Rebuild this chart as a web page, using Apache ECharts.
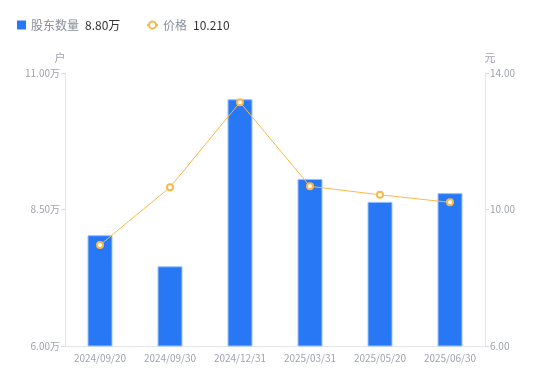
<!DOCTYPE html>
<html><head><meta charset="utf-8">
<script src="https://cdn.jsdelivr.net/npm/echarts@6/dist/echarts.min.js"></script>
<style>html,body{margin:0;padding:0;background:#fff}#c{width:550px;height:381px}</style>
</head><body><div id="c"></div>
<script>
var categories = ['2024/09/20','2024/09/30','2024/12/31','2025/03/31','2025/05/20','2025/06/30'];
var holders = [8.03, 7.46, 10.52, 9.06, 8.64, 8.80];
var prices = [8.96, 10.65, 13.14, 10.68, 10.43, 10.21];
var leftTicks = [6, 8.5, 11];
var rightTicks = [6, 10, 14];

var chart = echarts.init(document.getElementById('c'));
var font = '"Noto Sans CJK SC", "Noto Sans", sans-serif';
var legendText = {fontFamily: font, fontSize: 12, color: '#8a8f99',
  rich: {v: {color: '#333', fontSize: 12, padding: [0,0,0,6], fontFamily: font}}};
function fmt(n){
  if (n === '股东数量') return n + '{v|' + holders[holders.length-1].toFixed(2) + '万}';
  return n + '{v|' + prices[prices.length-1].toFixed(3) + '}';
}
chart.setOption({
  animation: false,
  textStyle: {fontFamily: font},
  legend: [{
    left: 12, top: 14, itemWidth: 9, itemHeight: 9,
    textStyle: legendText, formatter: fmt,
    data: [{name: '股东数量', icon: 'rect', itemStyle: {borderWidth: 0}}]
  }, {
    left: 141, top: 14, itemWidth: 11, itemHeight: 9, itemGap: 4,
    textStyle: legendText, formatter: fmt,
    data: [{name: '价格'}]
  }],
  grid: {left: 65, right: 65, top: 73, bottom: 35},
  xAxis: {
    type: 'category', data: categories,
    axisLine: {lineStyle: {color: '#e3e5ea'}},
    axisTick: {show: false},
    axisLabel: {color: '#a0a3ae', fontSize: 10, margin: 7, fontFamily: font}
  },
  yAxis: [
    {type: 'value', min: leftTicks[0], max: leftTicks[2], interval: 2.5, name: '户',
     nameTextStyle: {color: '#a0a3ae', fontSize: 11, padding: [0, 10, 0, 0], fontFamily: font},
     nameGap: 10,
     axisLine: {show: true, lineStyle: {color: '#e3e5ea'}},
     axisTick: {show: true, length: 4, lineStyle: {color: '#d8dadf'}},
     splitLine: {show: false},
     axisLabel: {color: '#a0a3ae', fontSize: 10, margin: 5, fontFamily: font,
       formatter: function(v){return v.toFixed(2) + '万';}}},
    {type: 'value', min: rightTicks[0], max: rightTicks[2], interval: 4, name: '元',
     nameTextStyle: {color: '#a0a3ae', fontSize: 11, padding: [0, 0, 0, 10], fontFamily: font},
     nameGap: 10,
     axisLine: {show: true, lineStyle: {color: '#e3e5ea'}},
     axisTick: {show: true, length: 4, lineStyle: {color: '#d8dadf'}},
     splitLine: {show: false},
     axisLabel: {color: '#a0a3ae', fontSize: 10, margin: 5, fontFamily: font,
       formatter: function(v){return v.toFixed(2);}}}
  ],
  series: [
    {name: '股东数量', type: 'bar', data: holders, barWidth: 25, yAxisIndex: 0,
     itemStyle: {color: '#2878f5', borderColor: '#9cc2fb', borderWidth: 1}},
    {name: '价格', type: 'line', data: prices, yAxisIndex: 1,
     symbol: 'emptyCircle', symbolSize: 6,
     lineStyle: {color: '#f9b94a', width: 1},
     itemStyle: {color: '#f9b94a', borderWidth: 2}}
  ]
});
</script></body></html>
